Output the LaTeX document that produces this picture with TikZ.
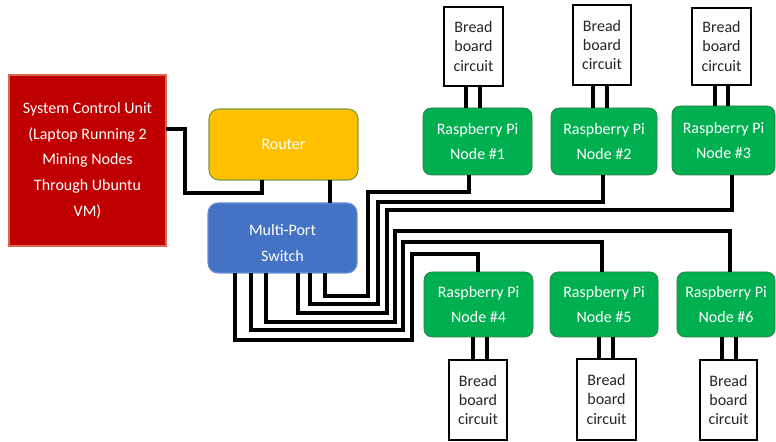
\documentclass[tikz,border=0pt]{standalone}
\usepackage{fontspec}
\setmainfont{Carlito}
\usetikzlibrary{calc}
\definecolor{scured}{HTML}{C00000}
\definecolor{scuedge}{HTML}{D9694A}
\definecolor{routerfill}{HTML}{FFC000}
\definecolor{routeredge}{HTML}{7A9A3A}
\definecolor{switchfill}{HTML}{4472C4}
\definecolor{switchedge}{HTML}{6A8FD6}
\definecolor{pifill}{HTML}{00B050}
\definecolor{piedge}{HTML}{2E7D3E}
\definecolor{bbtext}{HTML}{262626}
\begin{document}
\begin{tikzpicture}[x=0.75pt,y=-0.75pt,
  box/.style={inner sep=0pt, outer sep=0pt, align=center, text=white,
    font=\fontsize{12}{19.3}\selectfont},
  scu/.style={box, fill=scured, draw=scuedge, line width=0.8pt},
  router/.style={box, fill=routerfill, draw=routeredge, line width=0.8pt, rounded corners=7.5pt},
  switchbox/.style={box, fill=switchfill, draw=switchedge, line width=0.8pt, rounded corners=7.5pt},
  pinode/.style={box, fill=pifill, draw=piedge, line width=0.5pt, rounded corners=6pt},
  bboard/.style={inner sep=0pt, outer sep=0pt, align=center, text=bbtext, fill=white,
    draw=black, line width=1.1pt, font=\fontsize{12}{14.6}\selectfont},
  wire/.style={draw=black, line width=2.5pt, line join=miter}]
\useasboundingbox (0,0) rectangle (776,442);

\node[scu, minimum width=117.75pt, minimum height=128.25pt] (scu) at (87.5,160.5)
  {System Control Unit\\(Laptop Running 2\\Mining Nodes\\Through Ubuntu\\VM)};
\node[router, minimum width=111.75pt, minimum height=53.25pt] (rt) at (283.5,144.5) {Router};
\node[switchbox, minimum width=111.75pt, minimum height=52.5pt] (sw) at (282.5,238) {};
\node[box] (swtext) at (282.5,243) {Multi-Port\\Switch};

\node[pinode, minimum width=81.75pt, minimum height=50.25pt] (p1) at (477.5,141.5) {Raspberry Pi\\Node \#1};
\node[pinode, minimum width=79.5pt, minimum height=50.25pt] (p2) at (604,141.5) {Raspberry Pi\\Node \#2};
\node[pinode, minimum width=77.25pt, minimum height=51.75pt] (p3) at (723.5,140.5) {Raspberry Pi\\Node \#3};
\node[pinode, minimum width=81.75pt, minimum height=48.75pt] (p4) at (478.5,304.5) {Raspberry Pi\\Node \#4};
\node[pinode, minimum width=81pt, minimum height=48.75pt] (p5) at (604,304.5) {Raspberry Pi\\Node \#5};
\node[pinode, minimum width=73.5pt, minimum height=48.75pt] (p6) at (726,304.5) {Raspberry Pi\\Node \#6};

\node[bboard, minimum width=44.25pt, minimum height=59.25pt] (b1) at (473.5,46.5) {Bread\\board\\circuit};
\node[bboard, minimum width=43.5pt, minimum height=60pt] (b2) at (602,45) {Bread\\board\\circuit};
\node[bboard, minimum width=44.25pt, minimum height=57.75pt] (b3) at (721.5,46.5) {Bread\\board\\circuit};
\node[bboard, minimum width=43.5pt, minimum height=60pt] (b4) at (478,400) {Bread\\board\\circuit};
\node[bboard, minimum width=44.25pt, minimum height=60.75pt] (b5) at (606.5,399.5) {Bread\\board\\circuit};
\node[bboard, minimum width=42.75pt, minimum height=60pt] (b6) at (728.5,400) {Bread\\board\\circuit};

% control unit to router, router to switch
\draw[wire] ($(scu.north east)+(0,54)$) -- (185,129) -- (185,193) -| ($(rt.south west)+(53,0)$);
\draw[wire] ($(rt.south west)+(121,0)$) -- ($(sw.north west)+(122,0)$);

% switch to raspberry pi nodes
\draw[wire] ($(sw.south west)+(117,0)$) |- (368,296) -- (368,192) -| ($(p1.south west)+(46,0)$);
\draw[wire] ($(sw.south west)+(102,0)$) |- (378,304) -- (378,202) -| ($(p2.south west)+(52,0)$);
\draw[wire] ($(sw.south west)+(90,0)$) |- (387,313) -- (387,210) -| ($(p3.south west)+(60,0)$);
\draw[wire] ($(sw.south west)+(58,0)$) |- (395,322) -- (395,231) -| ($(p6.north west)+(53,0)$);
\draw[wire] ($(sw.south west)+(43,0)$) |- (403,330) -- (403,242) -| ($(p5.north west)+(52,0)$);
\draw[wire] ($(sw.south west)+(27,0)$) |- (412,340) -- (412,254) -| ($(p4.north west)+(54,0)$);

% breadboards
\draw[wire] ($(b1.south west)+(22,0)$) -- ($(p1.north west)+(43,0)$);
\draw[wire] ($(b1.south west)+(36,0)$) -- ($(p1.north west)+(57,0)$);
\draw[wire] ($(b2.south west)+(20,0)$) -- ($(p2.north west)+(42,0)$);
\draw[wire] ($(b2.south west)+(34,0)$) -- ($(p2.north west)+(56,0)$);
\draw[wire] ($(b3.south west)+(23,0)$) -- ($(p3.north west)+(43,0)$);
\draw[wire] ($(b3.south west)+(36,0)$) -- ($(p3.north west)+(56,0)$);
\draw[wire] ($(p4.south west)+(49,0)$) -- ($(b4.north west)+(24,0)$);
\draw[wire] ($(p4.south west)+(63,0)$) -- ($(b4.north west)+(38,0)$);
\draw[wire] ($(p5.south west)+(49,0)$) -- ($(b5.north west)+(22,0)$);
\draw[wire] ($(p5.south west)+(63,0)$) -- ($(b5.north west)+(36,0)$);
\draw[wire] ($(p6.south west)+(45,0)$) -- ($(b6.north west)+(22,0)$);
\draw[wire] ($(p6.south west)+(59,0)$) -- ($(b6.north west)+(36,0)$);
\end{tikzpicture}
\end{document}
